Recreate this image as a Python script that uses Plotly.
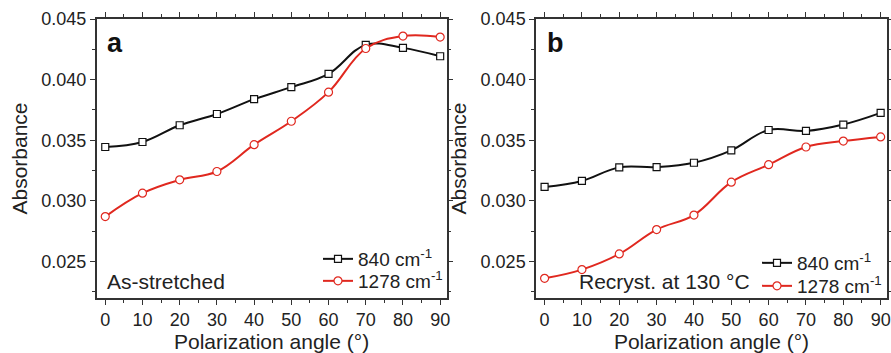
import plotly.graph_objects as go

# Polarization angles (degrees)
angles = [0, 10, 20, 30, 40, 50, 60, 70, 80, 90]

# Absorbance, as-stretched film
a_840 = [0.03445, 0.03486, 0.03624, 0.03717, 0.03839, 0.03938, 0.04048, 0.04287, 0.04262, 0.04193]
a_1278 = [0.02871, 0.03064, 0.03174, 0.03243, 0.03464, 0.03657, 0.03897, 0.04257, 0.04359, 0.04351]

# Absorbance, recrystallized at 130 °C
b_840 = [0.03116, 0.03165, 0.03277, 0.03279, 0.03315, 0.03417, 0.03585, 0.03577, 0.0363, 0.03726]
b_1278 = [0.02362, 0.02434, 0.02563, 0.02764, 0.02884, 0.03155, 0.03299, 0.03445, 0.03494, 0.03528]

series_names = ["840 cm<sup>-1</sup>", "1278 cm<sup>-1</sup>"]
panel_letters = ["a", "b"]
panel_notes = ["As-stretched", "Recryst. at 130 °C"]

BLACK = "#111111"
RED = "#e0281f"
FONT = "Liberation Sans, Arial, sans-serif"
W, H = 891, 353

# plot-area boxes in pixels: (left, right)
boxes = [(96.7, 446.5), (536.0, 887.0)]
top_px, bot_px = 19.0, 298.0
ydom = [1 - bot_px / H, 1 - top_px / H]

# one legend per entry: (left px of entry, centre px of row)
legend_spots = [
    [(318, 259), (318, 281)],
    [(757, 263), (757, 286)],
]

fig = go.Figure()

panels = [(a_840, a_1278), (b_840, b_1278)]
leg_ids = []
for i, (s840, s1278) in enumerate(panels):
    sfx = "" if i == 0 else str(i + 1)
    l1 = "legend" if i == 0 else "legend3"
    l2 = "legend2" if i == 0 else "legend4"
    leg_ids.append((l1, l2))
    fig.add_trace(go.Scatter(
        x=angles, y=s840, name=series_names[0], mode="lines+markers",
        line=dict(color=BLACK, width=2, shape="spline", smoothing=1.1),
        marker=dict(symbol="square", size=7, color="white", line=dict(color=BLACK, width=1.2)),
        xaxis="x" + sfx, yaxis="y" + sfx, legend=l1,
    ))
    fig.add_trace(go.Scatter(
        x=angles, y=s1278, name=series_names[1], mode="lines+markers",
        line=dict(color=RED, width=2, shape="spline", smoothing=1.1),
        marker=dict(symbol="circle", size=8, color="white", line=dict(color=RED, width=1.2)),
        xaxis="x" + sfx, yaxis="y" + sfx, legend=l2,
    ))

axis_common = dict(
    showline=True, linecolor="#333333", linewidth=1.5, mirror="allticks",
    ticks="outside", ticklen=5, tickwidth=1.2, tickcolor="#333333",
    showgrid=False, zeroline=False,
    tickfont=dict(family=FONT, size=18, color="#222222"),
)

layout = dict(
    width=W, height=H, margin=dict(l=0, r=0, t=0, b=0),
    paper_bgcolor="white", plot_bgcolor="white",
    font=dict(family=FONT, color="#222222"),
    showlegend=True,
)

for i, (l, r) in enumerate(boxes):
    sfx = "" if i == 0 else str(i + 1)
    layout["xaxis" + sfx] = dict(
        axis_common, domain=[l / W, r / W], range=[-2.3, 91.7],
        tickmode="linear", tick0=0, dtick=10,
        minor=dict(dtick=5, tick0=0, ticks="outside", ticklen=3, tickcolor="#333333"),
        title=dict(text="Polarization angle (°)", font=dict(family=FONT, size=21), standoff=6),
        anchor="y" + sfx, automargin=False,
    )
    layout["yaxis" + sfx] = dict(
        axis_common, domain=ydom, range=[0.022, 0.045],
        tickmode="linear", tick0=0.025, dtick=0.005, tickformat=".3f",
        minor=dict(dtick=0.0025, tick0=0.0225, ticks="outside", ticklen=3, tickcolor="#333333"),
        title=dict(text="Absorbance", font=dict(family=FONT, size=21), standoff=8),
        anchor="x" + sfx, automargin=False,
    )

for i in range(2):
    for j in range(2):
        px_left, px_mid = legend_spots[i][j]
        layout[leg_ids[i][j]] = dict(
            x=px_left / W, y=1 - px_mid / H, xanchor="left", yanchor="middle",
            bgcolor="rgba(0,0,0,0)", borderwidth=0,
            font=dict(family=FONT, size=19, color="#222222"),
            itemwidth=30,
        )

annotations = []
for i in range(2):
    sfx = "" if i == 0 else str(i + 1)
    annotations.append(dict(
        text="<b>%s</b>" % panel_letters[i], xref="x%s domain" % sfx, yref="y%s domain" % sfx,
        x=0.025, y=0.975, xanchor="left", yanchor="top", showarrow=False,
        font=dict(family=FONT, size=27, color="#111111"),
    ))
annotations.append(dict(
    text=panel_notes[0], xref="x domain", yref="y domain",
    x=0.025, y=0.01, xanchor="left", yanchor="bottom", showarrow=False,
    font=dict(family=FONT, size=21, color="#222222"),
))
annotations.append(dict(
    text=panel_notes[1], xref="x2 domain", yref="y2 domain",
    x=0.116, y=0.01, xanchor="left", yanchor="bottom", showarrow=False,
    font=dict(family=FONT, size=21, color="#222222"),
))
layout["annotations"] = annotations

fig.update_layout(**layout)
fig.write_html("out.html")
